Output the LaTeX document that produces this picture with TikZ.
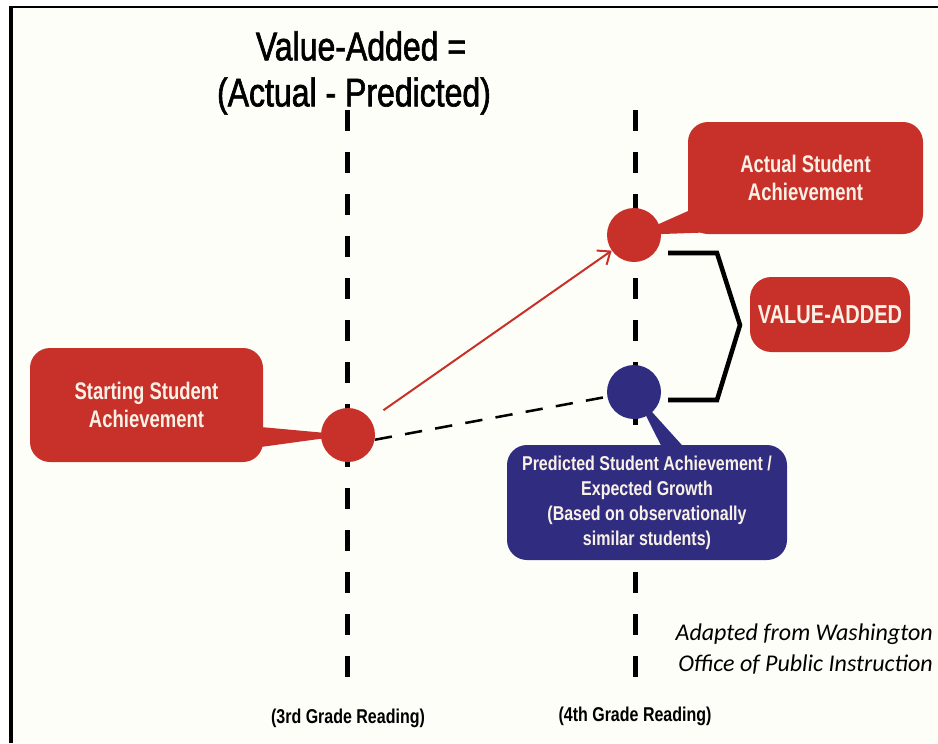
\documentclass[tikz,border=0pt]{standalone}
\usepackage{fontspec}
\setmainfont{Liberation Sans}
\newfontfamily\condb[FakeStretch=0.77]{Liberation Sans Bold}
\newfontfamily\condbb[FakeStretch=0.8]{Liberation Sans Bold}
\newfontfamily\condr[FakeStretch=0.8,FakeBold=1.6]{Liberation Sans}
\newfontfamily\srcfont{Carlito}
\usetikzlibrary{arrows.meta}
\definecolor{vred}{HTML}{C8302A}
\definecolor{vblue}{HTML}{302D80}
\definecolor{vtext}{HTML}{FAF1E6}
\definecolor{paper}{HTML}{FDFEF8}
\begin{document}
\begin{tikzpicture}[x=0.75pt,y=-0.75pt,
  callout/.style={rounded corners=15pt, text=vtext, align=center, inner sep=0pt,
    font=\condb\fontsize{18}{21}\selectfont},
  redbox/.style={callout, fill=vred},
  bluebox/.style={callout, fill=vblue, font=\condbb\fontsize{15}{18.75}\selectfont},
  gridline/.style={line width=3.75pt, dash pattern=on 16pt off 15.5pt},
  dot/.style={circle, minimum size=40.5pt, inner sep=0pt},
  growth/.style={vred, line width=1.5pt, -{Straight Barb[length=8pt,width=13pt,line width=1.5pt]}},
  expected/.style={line width=1.9pt, dash pattern=on 13pt off 10pt},
  bracketline/.style={line width=3.4pt, miter limit=10},
  gradelabel/.style={font=\condbb\fontsize{15}{18}\selectfont},
  titletext/.style={font=\condr\fontsize{30}{36}\selectfont}
]
\useasboundingbox (0,0) rectangle (938,743);
\fill[white] (0,0) rectangle (938,743);
\fill[paper] (10,7) rectangle (938,743);
\draw[line width=2.2pt] (10,7) -- (938,7);
\draw[line width=3pt] (11,6) -- (11,743);

% vertical grade lines
\coordinate (ltop) at (347,110);
\coordinate (lbot) at (347,680);
\coordinate (rtop) at (635,110);
\coordinate (rbot) at (635,680);
\draw[gridline] (ltop) -- (lbot);
\draw[gridline] (rtop) -- (rbot);

% circles (positions)
\node[dot] (s) at (348,435) {};
\node[dot] (a) at (634,235) {};
\node[dot] (p) at (634,392) {};

% connectors
\draw[growth, shorten <=12pt] (s) -- (a);
\draw[expected] (s.-10) -- (p.190);

% boxes
\node[redbox, minimum width=176.25pt, minimum height=84pt] (abox) at (805.5,178) {Actual Student\\Achievement};
\node[redbox, minimum width=174.75pt, minimum height=85.5pt] (sbox) at (146.5,405) {Starting Student\\Achievement};
\node[redbox, rounded corners=16pt, minimum width=120pt, minimum height=56.25pt,
  font=\condb\fontsize{19.5}{22}\selectfont] (vbox) at (830,314.5) {VALUE-ADDED};
\node[bluebox, minimum width=210pt, minimum height=86.25pt] (pbox) at (647,502.5)
  {Predicted Student Achievement /\\Expected Growth\\(Based on observationally\\similar students)};

% callout tails
\fill[vred] ([xshift=-2pt,yshift=-16.5pt]sbox.east) -- (s.center) -- ([xshift=-2pt,yshift=-31.5pt]sbox.east) -- cycle;
\fill[vred] ([xshift=1.5pt,yshift=18pt]abox.south west) -- (a.center) -- ([xshift=18pt,yshift=1.5pt]abox.south west) -- cycle;
\fill[vblue] ([xshift=11.25pt,yshift=-2pt]pbox.north) -- (p.center) -- ([xshift=27.75pt,yshift=-2pt]pbox.north) -- cycle;

% circles (drawn)
\fill[vred] (s) circle (20.25pt);
\fill[vred] (a) circle (20.25pt);
\fill[vblue] (p) circle (20.25pt);

% bracket
\coordinate (bt1) at (668,253);
\coordinate (bt2) at (717,253);
\coordinate (bm) at (740,325);
\coordinate (bb2) at (717,400);
\coordinate (bb1) at (668,400);
\draw[bracketline] (bt1) -- (bt2) -- (bm) -- (bb2) -- (bb1);

% titles and labels
\node[titletext] (t1) at (361,46) {Value-Added =};
\node[titletext] (t2) at (354,96) {(Actual - Predicted)};
\node[gradelabel] (g3) at (348,718) {(3rd Grade Reading)};
\node[gradelabel] (g4) at (635,716) {(4th Grade Reading)};
\node[font=\srcfont\itshape\fontsize{18}{23.5}\selectfont, align=right, anchor=east, inner sep=0pt] (src) at (933,649)
  {Adapted from Washington\\Office of Public Instruction};
\end{tikzpicture}
\end{document}
